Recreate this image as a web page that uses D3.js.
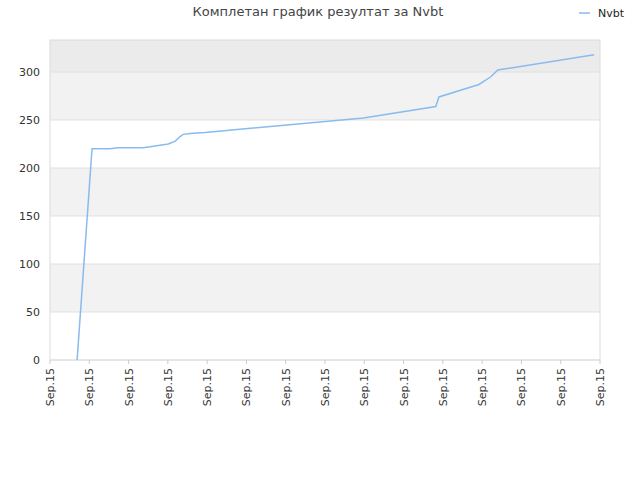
<!DOCTYPE html>
<html><head><meta charset="utf-8">
<script src="https://cdn.jsdelivr.net/npm/d3@7"></script>
<style>body{margin:0;background:#fff;font-family:"DejaVu Sans",sans-serif}</style>
</head><body><svg id="c" width="640" height="480"></svg>
<script>
const title = "Комплетан график резултат за Nvbt";
const seriesName = "Nvbt";
const tickLabels = ["Sep.15","Sep.15","Sep.15","Sep.15","Sep.15","Sep.15","Sep.15","Sep.15","Sep.15","Sep.15","Sep.15","Sep.15","Sep.15","Sep.15","Sep.15"];
const xs = [0.69,1.07,1.53,1.73,2.37,2.55,3.01,3.19,3.32,3.39,3.57,3.95,7.98,9.82,9.9,10.92,11.22,11.4,13.85];
const ys = [0,220,220,221,221,222,225,228,233,235,236,237,252,264,274,287,295,302,318];
const yTicks = [0,50,100,150,200,250,300];
const bands = [[50,100],[150,200],[250,300]];

const svg = d3.select("#c");
const L=50,R=600,T=40,B=360;
const x = d3.scaleLinear().domain([0,14]).range([L,R]);
const y = d3.scaleLinear().domain([0,333.3]).range([B,T]);
bands.forEach(b=>svg.append("rect").attr("x",L).attr("width",R-L).attr("y",y(b[1])).attr("height",y(b[0])-y(b[1])).attr("fill","#f2f2f2"));
svg.append("rect").attr("x",L).attr("width",R-L).attr("y",T).attr("height",y(300)-T).attr("fill","#ebebeb");
yTicks.forEach(t=>svg.append("line").attr("x1",L).attr("x2",R).attr("y1",y(t)).attr("y2",y(t)).attr("stroke","#e0e0e0"));
svg.append("rect").attr("x",L).attr("y",T).attr("width",R-L).attr("height",B-T).attr("fill","none").attr("stroke","#dcdcdc");
yTicks.forEach(t=>svg.append("text").attr("x",L-10).attr("y",y(t)+4).attr("text-anchor","end").attr("font-size",11).attr("fill","#333").text(t));
tickLabels.forEach((l,i)=>{
  svg.append("line").attr("x1",x(i)).attr("x2",x(i)).attr("y1",B).attr("y2",B+4).attr("stroke","#ccc");
  svg.append("text").attr("transform",`translate(${x(i)+4},${B+8}) rotate(-90)`).attr("text-anchor","end").attr("font-size",11).attr("fill","#333").text(l);
});
const pts = xs.map((v,i)=>[v,ys[i]]);
svg.append("path").attr("d",d3.line().x(d=>x(d[0])).y(d=>y(d[1]))(pts)).attr("fill","none").attr("stroke","#88bbee").attr("stroke-width",1.5);
svg.append("text").attr("x",318).attr("y",16).attr("text-anchor","middle").attr("font-size",13).attr("fill","#444").text(title);
svg.append("line").attr("x1",579).attr("x2",590).attr("y1",13).attr("y2",13).attr("stroke","#88bbee").attr("stroke-width",1.5);
svg.append("text").attr("x",598).attr("y",17).attr("font-size",11).attr("fill","#222").text(seriesName);
</script></body></html>
